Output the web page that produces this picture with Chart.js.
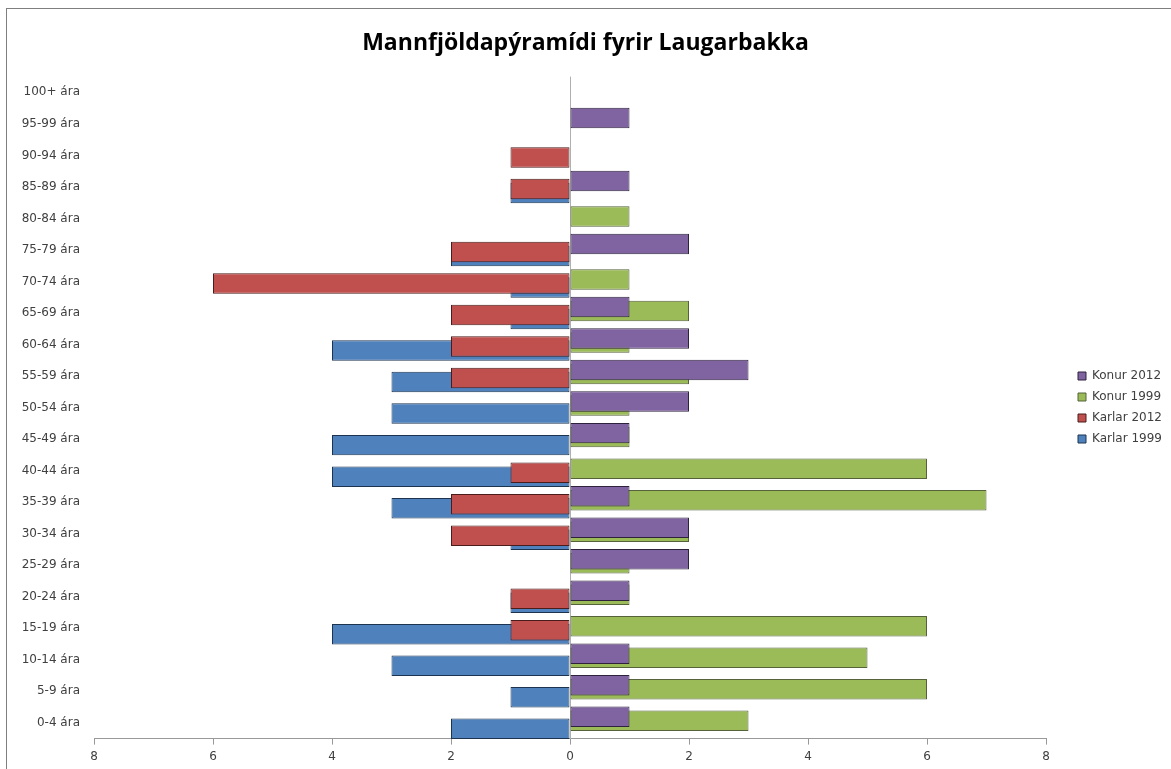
<!DOCTYPE html>
<html>
<head>
<meta charset="utf-8">
<script src="https://cdn.jsdelivr.net/npm/chart.js@4.4.1/dist/chart.umd.min.js"></script>
<style>
    body { margin: 0; background: #fff; }
    #wrap { position: relative; width: 1171px; height: 769px; overflow: hidden; }
    #frame { position: absolute; left: 6px; top: 8px; width: 1200px; height: 800px; border: 1px solid #7f7f7f; pointer-events: none; }
</style>
</head>
<body>
<div id="wrap">
    <canvas id="chart1" width="1171" height="769"></canvas>
    <div id="frame"></div>
</div>
<script>
// Aldurshópar, yngst fyrst
const ageGroups = ['0-4 ára', '5-9 ára', '10-14 ára', '15-19 ára', '20-24 ára', '25-29 ára', '30-34 ára',
    '35-39 ára', '40-44 ára', '45-49 ára', '50-54 ára', '55-59 ára', '60-64 ára', '65-69 ára',
    '70-74 ára', '75-79 ára', '80-84 ára', '85-89 ára', '90-94 ára', '95-99 ára', '100+ ára'];

const karlar1999 = [2, 1, 3, 4, 1, 0, 1, 3, 4, 4, 3, 3, 4, 1, 1, 2, 0, 1, 0, 0, 0];
const karlar2012 = [0, 0, 0, 1, 1, 0, 2, 2, 1, 0, 0, 2, 2, 2, 6, 2, 0, 1, 1, 0, 0];
const konur1999 = [3, 6, 5, 6, 1, 1, 2, 7, 6, 1, 1, 2, 1, 2, 1, 0, 1, 0, 0, 0, 0];
const konur2012 = [1, 1, 1, 0, 1, 2, 2, 1, 0, 1, 2, 3, 2, 1, 0, 2, 0, 1, 0, 1, 0];

const xTicks = [-8, -6, -4, -2, 0, 2, 4, 6, 8];

const textFont = { family: 'DejaVu Sans', size: 12 };

// Excel-style overlap: each series is nudged a few pixels up or down
const seriesShift = {
    id: 'seriesShift',
    afterLayout(chart) {
        // legend sits a bit away from the plot, like in Excel
        const lg = chart.legend;
        lg.left += 23;
        lg.right += 23;
        lg.top += 23;
        lg.bottom += 23;
    },
    beforeDatasetDraw(chart, args) {
        const ds = chart.data.datasets[args.index];
        chart.ctx.save();
        chart.ctx.translate(0, ds.shift || 0);
    },
    afterDatasetDraw(chart) {
        chart.ctx.restore();
    }
};

const ctx = document.getElementById('chart1').getContext('2d');
const chart1 = new Chart(ctx, {
    type: 'bar',
    data: {
        labels: ageGroups,
        datasets: [
            {
                label: 'Konur 2012',
                data: konur2012,
                backgroundColor: '#8064A2',
                borderColor: '#2e223d',
                shift: -6
            },
            {
                label: 'Konur 1999',
                data: konur1999,
                backgroundColor: '#9BBB59',
                borderColor: '#55623a',
                shift: -2
            },
            {
                label: 'Karlar 2012',
                data: karlar2012.map(v => -v),
                backgroundColor: '#C0504D',
                borderColor: '#4a1d1c',
                shift: 2
            },
            {
                label: 'Karlar 1999',
                data: karlar1999.map(v => -v),
                backgroundColor: '#4F81BD',
                borderColor: '#1d3450',
                shift: 6
            }
        ]
    },
    options: {
        indexAxis: 'y',
        responsive: false,
        animation: false,
        layout: {
            padding: { left: 0, right: 0, top: 0, bottom: 0 }
        },
        datasets: {
            bar: {
                grouped: false,
                categoryPercentage: 1,
                barPercentage: 0.65,
                borderWidth: 1,
                borderSkipped: false
            }
        },
        plugins: {
            title: {
                display: true,
                text: 'Mannfjöldapýramídi fyrir Laugarbakka',
                color: '#000',
                font: { family: 'Open Sans', size: 23, weight: 'bold' },
                padding: { top: 30, bottom: 19 }
            },
            legend: {
                position: 'right',
                labels: {
                    boxWidth: 8,
                    boxHeight: 8,
                    padding: 9,
                    color: '#404040',
                    font: textFont
                }
            },
            tooltip: { enabled: false }
        },
        scales: {
            x: {
                min: -8,
                max: 8,
                afterBuildTicks: function (scale) {
                    scale.ticks = xTicks.map(v => ({ value: v }));
                },
                afterFit: function (scale) {
                    // leave room between plot and legend like the original
                    scale.paddingRight = 125;
                },
                ticks: {
                    color: '#404040',
                    font: textFont,
                    padding: 5,
                    callback: function (value) {
                        return Math.abs(value);
                    }
                },
                grid: {
                    color: function (c) {
                        return c.tick && c.tick.value === 0 ? '#b0b0b0' : 'transparent';
                    },
                    tickColor: '#999',
                    tickLength: 6
                },
                border: { color: '#999' }
            },
            y: {
                reverse: true,
                afterFit: function (scale) {
                    scale.width = 94;
                },
                ticks: {
                    color: '#404040',
                    font: textFont,
                    padding: 6,
                    autoSkip: false
                },
                grid: { display: false },
                border: { display: false }
            }
        }
    },
    plugins: [seriesShift]
});
</script>
</body>
</html>
